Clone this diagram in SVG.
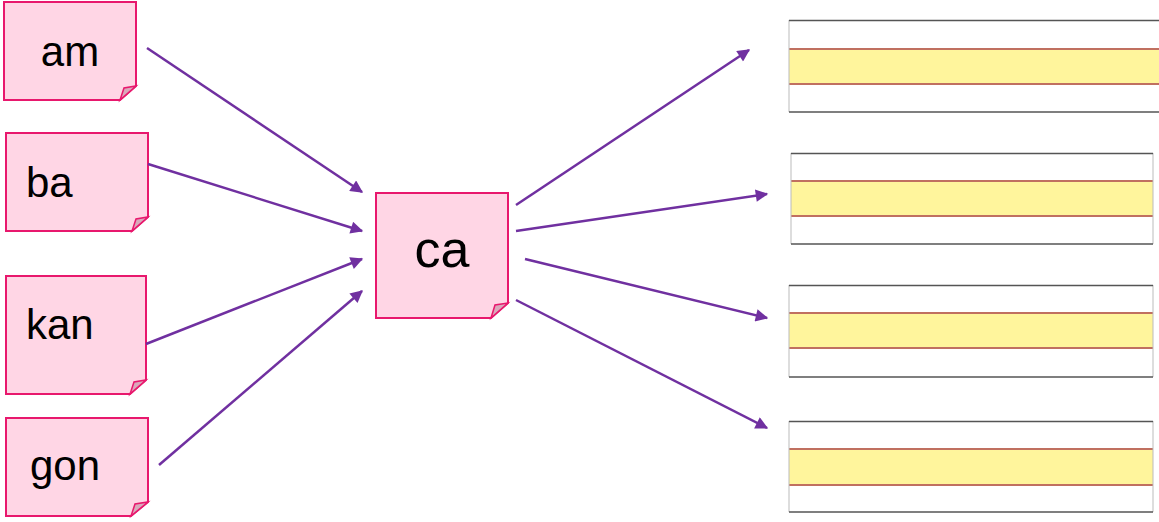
<svg xmlns="http://www.w3.org/2000/svg" width="1159" height="522" viewBox="0 0 1159 522">
<style>
.note{fill:#ffd6e5;stroke:#e8186d;stroke-width:2}
.fold{fill:#d9a9bb;stroke:#e8186d;stroke-width:1.5}
.lbl{font-family:"Liberation Sans","DejaVu Sans",sans-serif;fill:#000}
.arr{stroke:#7030a0;stroke-width:2.5;fill:none;marker-end:url(#ah)}
.strip{fill:#fff}
.band{fill:#fff59c}
.bl{stroke:#c07060;stroke-width:1.8}
.hl{stroke:#555;stroke-width:1.5}
.vl{stroke:#bbb;stroke-width:1}
</style>
<defs>
<marker id="ah" viewBox="0 0 10 10" refX="9" refY="5" markerWidth="6" markerHeight="5" orient="auto" markerUnits="strokeWidth">
<path d="M0,0 L10,5 L0,10 z" fill="#7030a0"/>
</marker>
</defs>
<rect width="1159" height="522" fill="#fff"/>
<g id="node-am">
<path class="note" d="M4,2 H136 V86 L120,100 H4 Z"/>
<path class="fold" d="M136,86 L120,100 L124,88 Z"/>
<text class="lbl" x="70" y="66" font-size="42" text-anchor="middle">am</text>
</g>
<g id="node-ba">
<path class="note" d="M6,133 H148 V217 L132,231 H6 Z"/>
<path class="fold" d="M148,217 L132,231 L136,219 Z"/>
<text class="lbl" x="26" y="197" font-size="42">ba</text>
</g>
<g id="node-kan">
<path class="note" d="M6,276 H146 V380 L130,394 H6 Z"/>
<path class="fold" d="M146,380 L130,394 L134,382 Z"/>
<text class="lbl" x="26" y="339" font-size="42">kan</text>
</g>
<g id="node-gon">
<path class="note" d="M6,418 H148 V502 L131,516 H6 Z"/>
<path class="fold" d="M148,502 L131,516 L135,504 Z"/>
<text class="lbl" x="30" y="480" font-size="42">gon</text>
</g>
<g id="node-ca">
<path class="note" d="M376,193 H508 V303 L491,318 H376 Z"/>
<path class="fold" d="M508,303 L491,318 L495,305 Z"/>
<text class="lbl" x="442" y="267" font-size="52" text-anchor="middle">ca</text>
</g>
<g id="strip-1">
<rect class="strip" x="789" y="20" width="370" height="92"/>
<rect class="band" x="789" y="49" width="370" height="35"/>
<line class="bl" x1="789" y1="49" x2="1159" y2="49"/>
<line class="bl" x1="789" y1="84" x2="1159" y2="84"/>
<line class="vl" x1="789" y1="20" x2="789" y2="112"/>
<line class="hl" x1="789" y1="20.5" x2="1159" y2="20.5"/>
<line class="hl" x1="789" y1="112" x2="1159" y2="112"/>
</g>
<g id="strip-2">
<rect class="strip" x="791" y="153" width="362" height="91"/>
<rect class="band" x="791" y="181" width="362" height="35"/>
<line class="bl" x1="791" y1="181" x2="1153" y2="181"/>
<line class="bl" x1="791" y1="216" x2="1153" y2="216"/>
<line class="vl" x1="791" y1="153" x2="791" y2="244"/>
<line class="vl" x1="1153" y1="153" x2="1153" y2="244"/>
<line class="hl" x1="791" y1="153.5" x2="1153" y2="153.5"/>
<line class="hl" x1="791" y1="244" x2="1153" y2="244"/>
</g>
<g id="strip-3">
<rect class="strip" x="789" y="285" width="364" height="92"/>
<rect class="band" x="789" y="313" width="364" height="35"/>
<line class="bl" x1="789" y1="313" x2="1153" y2="313"/>
<line class="bl" x1="789" y1="348" x2="1153" y2="348"/>
<line class="vl" x1="789" y1="285" x2="789" y2="377"/>
<line class="vl" x1="1153" y1="285" x2="1153" y2="377"/>
<line class="hl" x1="789" y1="285.5" x2="1153" y2="285.5"/>
<line class="hl" x1="789" y1="377" x2="1153" y2="377"/>
</g>
<g id="strip-4">
<rect class="strip" x="789" y="421" width="364" height="91"/>
<rect class="band" x="789" y="449" width="364" height="36"/>
<line class="bl" x1="789" y1="449" x2="1153" y2="449"/>
<line class="bl" x1="789" y1="485" x2="1153" y2="485"/>
<line class="vl" x1="789" y1="421" x2="789" y2="512"/>
<line class="vl" x1="1153" y1="421" x2="1153" y2="512"/>
<line class="hl" x1="789" y1="421.5" x2="1153" y2="421.5"/>
<line class="hl" x1="789" y1="512" x2="1153" y2="512"/>
</g>
<g id="connectors">
<line class="arr" x1="147" y1="48" x2="362" y2="192"/>
<line class="arr" x1="148" y1="164" x2="362" y2="231"/>
<line class="arr" x1="146" y1="344" x2="362" y2="259"/>
<line class="arr" x1="159" y1="465" x2="362" y2="291"/>
<line class="arr" x1="516" y1="205" x2="749" y2="50"/>
<line class="arr" x1="516" y1="231" x2="767" y2="194"/>
<line class="arr" x1="525" y1="259" x2="767" y2="318"/>
<line class="arr" x1="516" y1="300" x2="767" y2="428"/>
</g>
</svg>
